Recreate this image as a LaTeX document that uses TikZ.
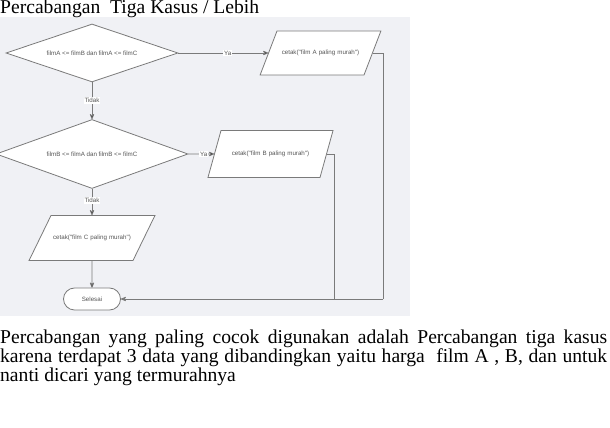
\documentclass[tikz,border=0pt]{standalone}
\usepackage{fontspec}
\setmainfont{Liberation Serif}
\newfontfamily\chartfont{Liberation Sans}
\usetikzlibrary{arrows}
\usetikzlibrary{shapes.geometric,shapes.misc}
\definecolor{canvas}{HTML}{F0F1F5}
\definecolor{wire}{HTML}{7A7A7A}
\definecolor{ink}{HTML}{555555}
\tikzset{
  chart/.style={draw=wire,fill=white,line width=0.8pt,font=\chartfont\fontsize{6.2}{7}\selectfont,text=ink,inner sep=0pt},
  decide/.style={chart,diamond,aspect=3},
  io/.style={chart,trapezium,align=center,text height=5pt,text depth=1.5pt,inner xsep=0pt},
  ends/.style={chart,rounded rectangle,minimum width=57pt,minimum height=22pt},
  tag/.style={font=\chartfont\fontsize{6.2}{7}\selectfont,text=ink,fill=white,inner sep=1pt}
}
\begin{document}
\begin{tikzpicture}[x=1pt,y=1pt,>=stealth',auto,thin]
      \useasboundingbox (0,0) rectangle (610,428);
      \fill[canvas] (0,411) rectangle (410,112);

      \node (title) [anchor=base west,inner sep=0pt,font=\fontsize{19.6}{19}\selectfont] at (0,414) {Percabangan\ \ Tiga Kasus / Lebih};

      \node (d1) [decide,minimum width=172pt,minimum height=58pt] at (92,375) {filmA <= filmB dan filmA <= filmC};
      \node (pA) [io,right of=d1,node distance=228.5pt,trapezium left angle=69,trapezium right angle=111,text width=87pt,inner ysep=18.75pt] {cetak("film A paling murah")};
      \node (d2) [decide,below of=d1,node distance=101pt,minimum width=192pt,minimum height=69pt] {filmB <= filmA dan filmB <= filmC};
      \node (pB) [io,right of=d2,node distance=178.5pt,trapezium left angle=74.5,trapezium right angle=105.5,text width=99pt,inner ysep=20.25pt] {cetak("film B paling murah")};
      \node (pC) [io,below of=d2,node distance=84pt,trapezium left angle=64,trapezium right angle=116,text width=82pt,inner ysep=19.25pt] {cetak("film C paling murah")};
      \node (sel) [ends,below of=pC,node distance=61pt] {Selesai};
      \coordinate (jA) at (383,129);
      \coordinate (jB) at (334,129);

      \path[draw=wire,line width=0.8pt,->]
        (d1) edge node [tag,pos=0.55,anchor=center] {Ya} (pA)
             edge node [tag,pos=0.5,anchor=center] {Tidak} (d2)
        (d2) edge node [tag,pos=0.6,anchor=center] {Ya} (pB)
             edge node [tag,pos=0.45,anchor=center] {Tidak} (pC)
        (pC) edge (sel);
      \draw[wire,line width=0.8pt] (pA.east) -| (jA);
      \draw[wire,line width=0.8pt] (pB.east) -| (jB);
      \draw[wire,line width=0.8pt,->] (jA) -- (sel.east);

      \node (note) [anchor=base west,text width=607pt,align=justify,inner sep=0pt,font=\fontsize{19.6}{19}\selectfont] at (0,84)
        {Percabangan yang paling cocok digunakan adalah Percabangan tiga kasus\linebreak
         karena terdapat 3 data yang dibandingkan yaitu harga\ \ film A , B, dan untuk\linebreak
         nanti dicari yang termurahnya\par};
\end{tikzpicture}
\end{document}
